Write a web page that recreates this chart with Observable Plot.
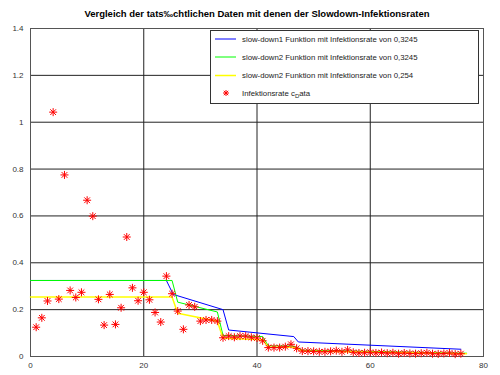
<!DOCTYPE html>
<html>
<head>
<meta charset="utf-8">
<script src="https://cdn.jsdelivr.net/npm/d3@7"></script>
<script src="https://cdn.jsdelivr.net/npm/@observablehq/plot@0.6"></script>
<style>
  html, body { margin: 0; padding: 0; background: #fff; }
  svg { display: block; }
</style>
</head>
<body>
<div id="chart"></div>
<script>
const titleText = "Vergleich der tats\u2030chtlichen Daten mit denen der Slowdown-Infektionsraten";

// Observed infection rate (c_Data), day index
const dataX = d3.range(1, 77);
const dataY = [
  0.125, 0.165, 0.237, 1.043, 0.245, 0.775, 0.282, 0.252, 0.274, 0.667,
  0.599, 0.244, 0.134, 0.265, 0.137, 0.208, 0.510, 0.293, 0.238, 0.274,
  0.242, 0.188, 0.147, 0.343, 0.268, 0.194, 0.116, 0.220, 0.212, 0.151,
  0.156, 0.156, 0.151, 0.080, 0.087, 0.082, 0.087, 0.087, 0.082, 0.079,
  0.067, 0.038, 0.038, 0.038, 0.042, 0.052, 0.035, 0.023, 0.023, 0.022,
  0.020, 0.020, 0.022, 0.025, 0.020, 0.028, 0.018, 0.015, 0.016, 0.018,
  0.015, 0.017, 0.014, 0.016, 0.012, 0.015, 0.013, 0.012, 0.014, 0.016,
  0.012, 0.011, 0.013, 0.015, 0.010, 0.012
];

// slow-down1, rate 0.3245
const blueX = [0, 24, 25.2, 34, 35, 46.5, 47.3, 76];
const blueY = [0.3245, 0.3245, 0.265, 0.200, 0.113, 0.085, 0.062, 0.031];
// slow-down2, rate 0.3245
const greenX = [0, 25, 26, 33, 34, 41, 42, 46, 47, 48, 77];
const greenY = [0.3245, 0.3245, 0.232, 0.190, 0.090, 0.085, 0.045, 0.045, 0.040, 0.027, 0.014];
// slow-down2, rate 0.254
const yellowX = [0, 25, 26, 33, 34, 41, 42, 46, 47, 48, 77];
const yellowY = [0.254, 0.254, 0.185, 0.150, 0.078, 0.072, 0.040, 0.040, 0.035, 0.024, 0.012];

const xTicks = [0, 20, 40, 60, 80];
const yTicks = [0, 0.2, 0.4, 0.6, 0.8, 1, 1.2, 1.4];

const legendLabels = [
  "slow-down1 Funktion mit Infektionsrate von 0,3245",
  "slow-down2 Funktion mit Infektionsrate von 0,3245",
  "slow-down2 Funktion mit Infektionsrate von 0,254",
  "Infektionsrate c"
];
const legendColors = ["#0000ff", "#00ff00", "#ffff00", "#ff0000"];

const pts = dataX.map((x, i) => ({x, y: dataY[i]}));
const toRows = (xs, ys) => xs.map((x, i) => ({x, y: ys[i]}));
const blue = toRows(blueX, blueY);
const green = toRows(greenX, greenY);
const yellow = toRows(yellowX, yellowY);

const FONT = "'Liberation Sans', Arial, Helvetica, sans-serif";

const svg = Plot.plot({
  width: 500,
  height: 375,
  marginLeft: 30,
  marginRight: 17,
  marginTop: 28,
  marginBottom: 19,
  style: { fontFamily: FONT, fontSize: "8px", color: "#333", background: "#fff" },
  x: { domain: [0, 80], ticks: xTicks },
  y: { domain: [0, 1.4], ticks: yTicks },
  marks: [
    Plot.gridX(xTicks, { stroke: "#222", strokeOpacity: 1 }),
    Plot.gridY(yTicks, { stroke: "#222", strokeOpacity: 1 }),
    Plot.frame({ stroke: "#555" }),
    Plot.line(blue, { x: "x", y: "y", stroke: legendColors[0], strokeWidth: 1 }),
    Plot.line(green, { x: "x", y: "y", stroke: legendColors[1], strokeWidth: 1 }),
    Plot.line(yellow, { x: "x", y: "y", stroke: legendColors[2], strokeWidth: 1.5 }),
    Plot.dot(pts, { x: "x", y: "y", symbol: "plus", r: 2.7, stroke: "#ff0000", strokeWidth: 1 }),
    Plot.dot(pts, { x: "x", y: "y", symbol: "times", r: 2.7, stroke: "#ff0000", strokeWidth: 1 }),
    Plot.axisX(xTicks, { tickSize: 0, tickPadding: 6, label: null, fill: "#333" }),
    Plot.axisY(yTicks, { tickSize: 0, tickPadding: 7, label: null, tickFormat: d3.format("~g"), fill: "#333" })
  ]
});

const s = d3.select(svg);
// Title
s.append("text")
  .attr("x", 257).attr("y", 17)
  .attr("text-anchor", "middle")
  .style("font-family", FONT)
  .style("font-weight", "bold")
  .style("font-size", "9.5px")
  .attr("fill", "#000")
  .text(titleText);

// Legend
const lg = s.append("g").attr("text-anchor", "start").style("font-family", FONT).style("font-size", "7.8px");
lg.append("rect").attr("x", 210.5).attr("y", 30.5).attr("width", 268).attr("height", 73)
  .attr("fill", "#fff").attr("stroke", "#333");
const rowsY = [39, 57, 75.5, 93];
legendLabels.forEach((lab, i) => {
  const y = rowsY[i];
  if (i < 3) {
    lg.append("line").attr("x1", 215).attr("x2", 236).attr("y1", y).attr("y2", y)
      .attr("stroke", legendColors[i]).attr("stroke-width", i === 2 ? 1.5 : 1);
  } else {
    const cx = 226;
    lg.append("path").attr("d", `M${cx-3},${y}H${cx+3}M${cx},${y-3}V${y+3}M${cx-2.2},${y-2.2}L${cx+2.2},${y+2.2}M${cx-2.2},${y+2.2}L${cx+2.2},${y-2.2}`)
      .attr("stroke", legendColors[3]).attr("fill", "none");
  }
  const t = lg.append("text").attr("x", 242).attr("y", y + 2.8).attr("text-anchor", "start").attr("fill", "#222").text(lab);
  if (i === 3) {
    t.append("tspan").attr("dy", 2).style("font-size", "6px").text("D");
    t.append("tspan").attr("dy", -2).text("ata");
  }
});

document.getElementById("chart").appendChild(svg);
</script>
</body>
</html>
